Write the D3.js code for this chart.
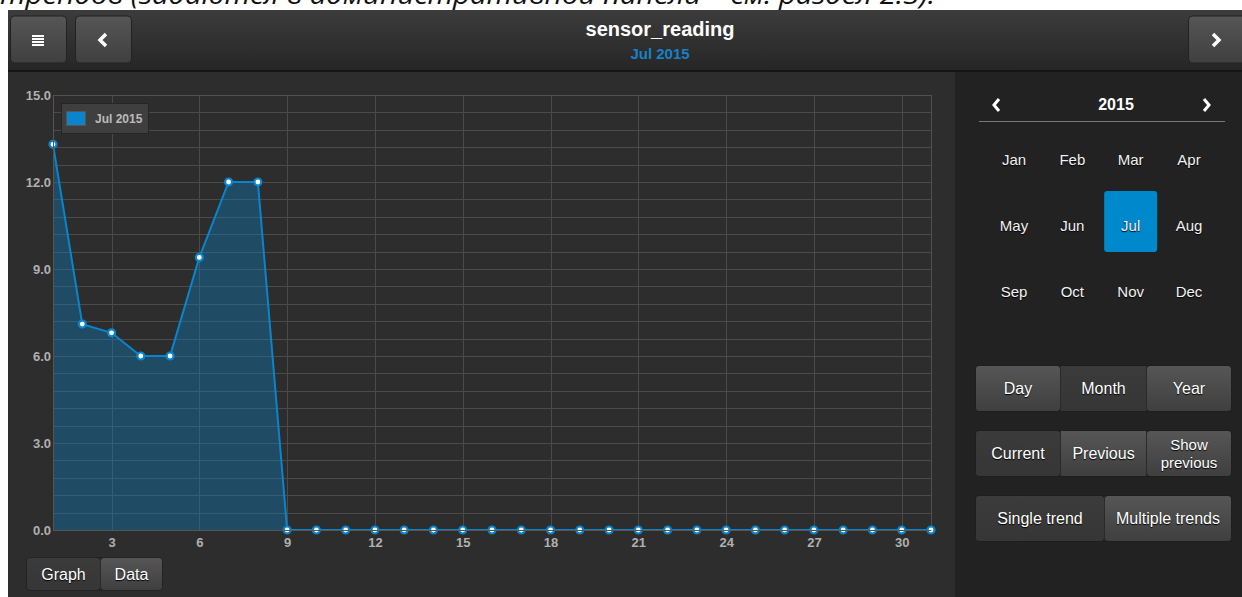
<!DOCTYPE html>
<html>
<head>
<meta charset="utf-8">
<script src="https://cdn.jsdelivr.net/npm/d3@7"></script>
<style>
  html, body { margin: 0; padding: 0; background: #fff; }
  svg { display: block; font-family: "Liberation Sans", Arial, sans-serif; }
</style>
</head>
<body>
<svg id="root" width="1242" height="597"></svg>
<script>
"use strict";

// --- data ---
var days = d3.range(1, 32);
var readings = [13.3, 7.1, 6.8, 6.0, 6.0, 9.4, 12.0, 12.0, 0, 0, 0, 0, 0, 0, 0, 0,
                0, 0, 0, 0, 0, 0, 0, 0, 0, 0, 0, 0, 0, 0, 0];
var yTicks = [0, 3, 6, 9, 12, 15];
var xTicks = [3, 6, 9, 12, 15, 18, 21, 24, 27, 30];
var seriesName = "Jul 2015";
var months = ["Jan", "Feb", "Mar", "Apr", "May", "Jun", "Jul", "Aug", "Sep", "Oct", "Nov", "Dec"];
var selectedMonth = "Jul";
var year = "2015";
var title = "sensor_reading";

var svg = d3.select('#root');
var defs = svg.append('defs');

function grad(id, top, bottom) {
    var g = defs.append('linearGradient').attr('id', id).attr('x1', 0).attr('y1', 0).attr('x2', 0).attr('y2', 1);
    g.append('stop').attr('offset', '0%').attr('stop-color', top);
    g.append('stop').attr('offset', '100%').attr('stop-color', bottom);
}
grad('hdr', '#3c3c3c', '#262626');
grad('btn', '#565656', '#3f3f3f');
grad('btnOn', '#3b3b3b', '#363636');

// page caption, cut at the top edge like the reference
svg.append('text')
    .attr('x', 0).attr('y', 4)
    .attr('textLength', 935).attr('lengthAdjust', 'spacingAndGlyphs')
    .style('font-family', '"Open Sans", "Noto Sans", sans-serif')
    .style('font-style', 'italic')
    .style('font-size', '26px')
    .attr('fill', '#111')
    .text('трендов (задаются в административной панели – см. раздел 2.3).');

// app background
svg.append('rect').attr('x', 8).attr('y', 10).attr('width', 1234).attr('height', 587).attr('fill', '#2d2d2d');

// header
svg.append('rect').attr('x', 8).attr('y', 10).attr('width', 1234).attr('height', 60).attr('fill', 'url(#hdr)');
svg.append('rect').attr('x', 8).attr('y', 70).attr('width', 1234).attr('height', 2).attr('fill', '#151515');

function headerButton(x, w) {
    return svg.append('rect').attr('x', x).attr('y', 16).attr('width', w).attr('height', 47)
        .attr('rx', 4).attr('fill', 'url(#btn)').attr('stroke', '#222').attr('stroke-width', 1);
}
headerButton(10.5, 56);
headerButton(75.5, 56);
headerButton(1188.5, 60);

// menu icon
svg.append('g').selectAll('rect').data(d3.range(4)).enter().append('rect')
    .attr('x', 32).attr('y', function(d) { return 35 + d * 3; })
    .attr('width', 12).attr('height', 2).attr('fill', '#fff');
// chevrons
svg.append('path').attr('d', 'M106,34 L100,40 L106,46').attr('fill', 'none').attr('stroke', '#fff').attr('stroke-width', 3.5);
svg.append('path').attr('d', 'M1213,34 L1219,40 L1213,46').attr('fill', 'none').attr('stroke', '#fff').attr('stroke-width', 3.5);

svg.append('text').attr('x', 660).attr('y', 36).attr('text-anchor', 'middle')
    .attr('fill', '#fff').style('font-weight', 'bold').style('font-size', '20px').text(title);
svg.append('text').attr('x', 660).attr('y', 59).attr('text-anchor', 'middle')
    .attr('fill', '#1583c5').style('font-weight', 'bold').style('font-size', '15px').text(seriesName);

// right panel
svg.append('rect').attr('x', 955).attr('y', 72).attr('width', 287).attr('height', 525).attr('fill', '#222');

// --- chart ---
var x = d3.scaleLinear().domain([1, 31]).range([53, 931]);
var y = d3.scaleLinear().domain([0, 15]).range([530, 95]);

var plot = svg.append('g');

// minor horizontal grid every 0.6
plot.append('g').selectAll('line').data(d3.range(0, 15.01, 0.6)).enter().append('line')
    .attr('x1', x(1)).attr('x2', x(31))
    .attr('y1', function(d) { return Math.round(y(d)) + 0.5; })
    .attr('y2', function(d) { return Math.round(y(d)) + 0.5; })
    .attr('stroke', '#4b4b4b').attr('stroke-width', 1);
plot.append('g').selectAll('line').data(xTicks).enter().append('line')
    .attr('x1', function(d) { return Math.round(x(d)) + 0.5; })
    .attr('x2', function(d) { return Math.round(x(d)) + 0.5; })
    .attr('y1', y(15)).attr('y2', y(0))
    .attr('stroke', '#4b4b4b').attr('stroke-width', 1);
plot.append('rect').attr('x', x(1) + 0.5).attr('y', y(15) + 0.5)
    .attr('width', x(31) - x(1)).attr('height', y(0) - y(15))
    .attr('fill', 'none').attr('stroke', '#505050');

var pts = days.map(function(d, i) { return [d, readings[i]]; });

plot.append('path').datum(pts)
    .attr('d', d3.area().x(function(d) { return x(d[0]); }).y0(y(0)).y1(function(d) { return y(d[1]); }))
    .attr('fill', '#0a85cc').attr('fill-opacity', 0.35);
plot.append('path').datum(pts)
    .attr('d', d3.line().x(function(d) { return x(d[0]); }).y(function(d) { return y(d[1]); }))
    .attr('fill', 'none').attr('stroke', '#0a85cc').attr('stroke-width', 2);
plot.append('g').selectAll('circle').data(pts).enter().append('circle')
    .attr('cx', function(d) { return x(d[0]); })
    .attr('cy', function(d) { return y(d[1]); })
    .attr('r', 3.5).attr('fill', '#fff').attr('stroke', '#0a85cc').attr('stroke-width', 2.2);

// axes
var yAxis = plot.append('g').attr('transform', 'translate(' + x(1) + ',0)')
    .call(d3.axisLeft(y).tickValues(yTicks).tickSize(0).tickPadding(2).tickFormat(d3.format('.1f')));
var xAxis = plot.append('g').attr('transform', 'translate(0,' + y(0) + ')')
    .call(d3.axisBottom(x).tickValues(xTicks).tickSize(0).tickPadding(8).tickFormat(d3.format('d')));
[yAxis, xAxis].forEach(function(a) {
    a.select('.domain').attr('stroke', '#555');
    a.selectAll('text').attr('fill', '#b0b0b0').style('font-size', '13px').style('font-weight', 'bold')
        .style('font-family', '"Liberation Sans", Arial, sans-serif');
});

// legend
var legend = svg.append('g');
legend.append('rect').attr('x', 61.5).attr('y', 103.5).attr('width', 87).attr('height', 30)
    .attr('fill', '#3f3f3f').attr('stroke', '#262626');
legend.append('rect').attr('x', 66.5).attr('y', 111.5).attr('width', 19).attr('height', 14)
    .attr('fill', '#0a85cc').attr('stroke', '#555');
legend.append('text').attr('x', 95).attr('y', 123).attr('fill', '#bbb')
    .style('font-size', '12px').style('font-weight', 'bold').text(seriesName);

// --- month picker ---
svg.append('path').attr('d', 'M999,99 L994,105 L999,111').attr('fill', 'none').attr('stroke', '#fff').attr('stroke-width', 3);
svg.append('path').attr('d', 'M1204,99 L1209,105 L1204,111').attr('fill', 'none').attr('stroke', '#fff').attr('stroke-width', 3);
svg.append('text').attr('x', 1116).attr('y', 110).attr('text-anchor', 'middle').attr('fill', '#fff')
    .style('font-weight', 'bold').style('font-size', '16px').text(year);
svg.append('line').attr('x1', 979).attr('x2', 1225).attr('y1', 121.5).attr('y2', 121.5).attr('stroke', '#777');

var colX = d3.scalePoint().domain([0, 1, 2, 3]).range([1014, 1189]);
var rowY = d3.scalePoint().domain([0, 1, 2]).range([160, 292]);
var mg = svg.append('g').selectAll('g').data(months).enter().append('g')
    .attr('transform', function(d, i) { return 'translate(' + colX(i % 4) + ',' + rowY(Math.floor(i / 4)) + ')'; });
mg.filter(function(d) { return d === selectedMonth; }).append('rect')
    .attr('x', -26.5).attr('y', -35).attr('width', 53).attr('height', 61).attr('rx', 3).attr('fill', '#0088cc');
mg.append('text').attr('text-anchor', 'middle').attr('y', 5).attr('fill', '#f2f2f2')
    .style('font-size', '15px').style('text-shadow', '0 1px 1px #000').text(function(d) { return d; });

// --- button groups ---
function buttonGroup(y0, h, items) {
    var g = svg.append('g');
    var x0 = items[0].x;
    var x1 = items[items.length - 1].x + items[items.length - 1].w;
    g.append('rect').attr('x', x0 - 0.5).attr('y', y0 - 0.5).attr('width', x1 - x0 + 1).attr('height', h + 1)
        .attr('rx', 4).attr('fill', '#1a1a1a');
    items.forEach(function(it, i) {
        var r = g.append('rect').attr('x', it.x).attr('y', y0).attr('width', it.w).attr('height', h)
            .attr('fill', it.on ? 'url(#btnOn)' : 'url(#btn)');
        if (i === 0 || i === items.length - 1) r.attr('rx', 3);
        var lines = it.label.split('\n');
        var t = g.append('text').attr('text-anchor', 'middle').attr('fill', '#fff')
            .style('font-size', lines.length > 1 ? '15px' : '16px').style('text-shadow', '0 1px 1px #000');
        lines.forEach(function(l, k) {
            t.append('tspan').attr('x', it.x + it.w / 2)
                .attr('y', y0 + h / 2 + 5.5 + (k - (lines.length - 1) / 2) * 18).text(l);
        });
    });
    // separators
    items.slice(1).forEach(function(it) {
        g.append('line').attr('x1', it.x - 0.5).attr('x2', it.x - 0.5).attr('y1', y0).attr('y2', y0 + h).attr('stroke', '#2a2a2a');
    });
}
buttonGroup(366, 45, [
    { label: 'Day', x: 976, w: 84, on: false },
    { label: 'Month', x: 1061, w: 85, on: true },
    { label: 'Year', x: 1147, w: 84, on: false }
]);
buttonGroup(431, 45, [
    { label: 'Current', x: 976, w: 84, on: true },
    { label: 'Previous', x: 1061, w: 85, on: false },
    { label: 'Show\nprevious', x: 1147, w: 84, on: false }
]);
buttonGroup(496, 45, [
    { label: 'Single trend', x: 976, w: 128, on: true },
    { label: 'Multiple trends', x: 1105, w: 126, on: false }
]);
buttonGroup(558, 32, [
    { label: 'Graph', x: 27, w: 73, on: true },
    { label: 'Data', x: 101, w: 61, on: false }
]);
</script>
</body>
</html>
